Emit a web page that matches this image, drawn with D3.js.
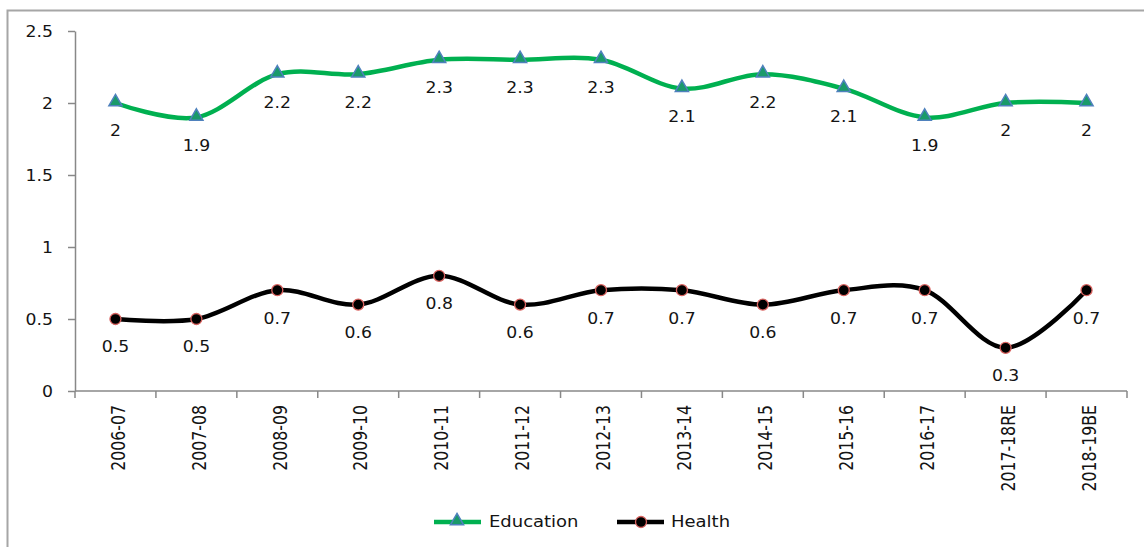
<!DOCTYPE html>
<html>
<head>
<meta charset="utf-8">
<script src="https://cdn.jsdelivr.net/npm/d3@7/dist/d3.min.js"></script>
<style>
  html, body { margin: 0; padding: 0; background: #fff; }
  svg { display: block; }
  text { font-family: "DejaVu Sans", Verdana, sans-serif; fill: #141414; }
  .cat { font-family: "DejaVu Sans Condensed", "DejaVu Sans", sans-serif; font-stretch: condensed; }
</style>
</head>
<body>
<svg id="chart" width="1144" height="547"></svg>
<script>
// Years on the category axis
const years = ["2006-07", "2007-08", "2008-09", "2009-10", "2010-11", "2011-12", "2012-13",
               "2013-14", "2014-15", "2015-16", "2016-17", "2017-18RE", "2018-19BE"];
// Spending shares per year
const education = [2, 1.9, 2.2, 2.2, 2.3, 2.3, 2.3, 2.1, 2.2, 2.1, 1.9, 2, 2];
const health = [0.5, 0.5, 0.7, 0.6, 0.8, 0.6, 0.7, 0.7, 0.6, 0.7, 0.7, 0.3, 0.7];
const yTicks = [0, 0.5, 1, 1.5, 2, 2.5];

const svg = d3.select("#chart");
const SX = 1.15; // horizontal text stretch

// Outer frame (top and left edges)
svg.append("path")
  .attr("d", "M7.5,547 V10.5 H1144")
  .attr("fill", "none").attr("stroke", "#a6a6a6").attr("stroke-width", 2);

const plotL = 75, plotR = 1127, plotT = 31, plotB = 391;

const x = d3.scaleBand().domain(years).range([plotL, plotR]);
const y = d3.scaleLinear().domain([0, 2.5]).range([plotB, plotT]);
const cx = d => x(d) + x.bandwidth() / 2;

// Y axis
const yAxis = svg.append("g").attr("transform", `translate(${plotL},0)`)
  .call(d3.axisLeft(y).tickValues(yTicks).tickSize(7).tickSizeOuter(0));
yAxis.select(".domain").attr("stroke", "#888").attr("stroke-width", 1.5);
yAxis.selectAll(".tick line").attr("stroke", "#888").attr("stroke-width", 1.5);
yAxis.selectAll(".tick text").remove();
yAxis.selectAll(".tick").append("text")
  .attr("transform", `translate(-22,0) scale(${SX},1)`)
  .attr("text-anchor", "end").attr("dy", "0.36em")
  .style("font-size", "15px").text(d => d);

// X axis with ticks at band edges
const xg = svg.append("g").attr("transform", `translate(0,${plotB})`);
xg.append("line").attr("x1", plotL).attr("x2", plotR)
  .attr("stroke", "#888").attr("stroke-width", 1.5);
const edges = years.map(d => x(d)).concat([plotR]);
xg.selectAll("line.tk").data(edges).join("line").attr("class", "tk")
  .attr("x1", d => d).attr("x2", d => d).attr("y1", 0).attr("y2", 7)
  .attr("stroke", "#888").attr("stroke-width", 1.5);
xg.selectAll("text.cat").data(years).join("text").attr("class", "cat")
  .attr("transform", d => `translate(${cx(d) + 2},14) scale(${SX},1) rotate(-90)`)
  .attr("text-anchor", "end").attr("dy", "0.36em")
  .style("font-size", "17.5px").text(d => d);

// Smoothed series lines
const line = d3.line().x((d, i) => cx(years[i])).y(d => y(d)).curve(d3.curveCardinal.tension(0));

svg.append("path").datum(education).attr("d", line)
  .attr("fill", "none").attr("stroke", "#00b050").attr("stroke-width", 4.5);
svg.append("path").datum(health).attr("d", line)
  .attr("fill", "none").attr("stroke", "#000").attr("stroke-width", 4.5);

const tri = d3.symbol().type(d3.symbolTriangle).size(75);

svg.append("g").selectAll("path").data(education).join("path")
  .attr("d", tri)
  .attr("transform", (d, i) => `translate(${cx(years[i])},${y(d) - 1})`)
  .attr("fill", "#1a9a6a").attr("stroke", "#4f81bd").attr("stroke-width", 1.5);

svg.append("g").selectAll("circle").data(health).join("circle")
  .attr("cx", (d, i) => cx(years[i])).attr("cy", d => y(d)).attr("r", 5.5)
  .attr("fill", "#000").attr("stroke", "#d9625f").attr("stroke-width", 1.3);

// Value labels below each point
function labels(values) {
  svg.append("g").selectAll("text").data(values).join("text")
    .attr("transform", (d, i) => `translate(${cx(years[i])},${y(d) + 28}) scale(${SX},1)`)
    .attr("text-anchor", "middle").attr("dy", "0.36em")
    .style("font-size", "15px").text(d => d);
}
labels(education);
labels(health);

// Legend
const lg = svg.append("g").attr("transform", "translate(0,522)");
lg.append("line").attr("x1", 434).attr("x2", 481).attr("stroke", "#00b050").attr("stroke-width", 4.5);
lg.append("path").attr("d", tri).attr("transform", "translate(457,-1)")
  .attr("fill", "#1a9a6a").attr("stroke", "#4f81bd").attr("stroke-width", 1.5);
lg.append("text").attr("transform", "translate(489,0) scale(1.2,1)").attr("dy", "0.36em")
  .style("font-size", "15px").text("Education");
lg.append("line").attr("x1", 617).attr("x2", 664).attr("stroke", "#000").attr("stroke-width", 4.5);
lg.append("circle").attr("cx", 641).attr("cy", 0).attr("r", 5.5)
  .attr("fill", "#000").attr("stroke", "#d9625f").attr("stroke-width", 1.3);
lg.append("text").attr("transform", "translate(671,0) scale(1.2,1)").attr("dy", "0.36em")
  .style("font-size", "15px").text("Health");
</script>
</body>
</html>
